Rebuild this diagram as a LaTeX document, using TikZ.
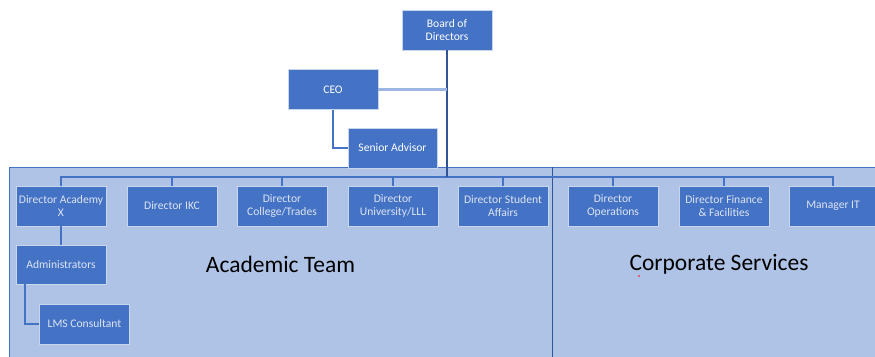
\documentclass[tikz,border=0pt]{standalone}
\usepackage{fontspec}
\setmainfont{Carlito}
\definecolor{boxblue}{HTML}{4472C4}
\definecolor{panelblue}{HTML}{AFC3E6}
\definecolor{linedark}{HTML}{2F5597}
\definecolor{linelight}{HTML}{9DB5E0}
\definecolor{softwhite}{HTML}{DDE5F4}
\tikzset{
  orgbox/.style={fill=boxblue, draw=white!70!boxblue, line width=0.4pt,
    minimum width=90pt, minimum height=40pt, inner sep=1pt,
    align=center, font=\fontsize{11.6}{13}\selectfont, text=softwhite},
  topbox/.style={orgbox, text=white},
  link/.style={draw=boxblue, line width=1.1pt},
  teamlabel/.style={font=\fontsize{23.5}{28}\selectfont, text=black}
}
\begin{document}
\begin{tikzpicture}[x=1pt,y=-1pt]
\useasboundingbox (0,0) rectangle (875,356);
% background panel with the two divisions
\fill[panelblue] (9,167) rectangle (880,360);
\draw[boxblue, line width=0.8pt] (880,167) -- (9,167) -- (9,360);
\draw[linedark, line width=1pt] (552.5,167) -- (552.5,360);

% executive level
\node[topbox] (board) at (447,30) {Board of\\Directors};
\node[topbox] (ceo) at (333,89.5) {CEO};
\node[topbox, minimum width=89pt] (senior) at (392.5,148) {Senior Advisor};

% directors
\coordinate (bar) at (0,177);
\node[orgbox] (acad) at (61,206) {Director Academy\\X};
\node[orgbox] (ikc) at (172,206) {Director IKC};
\node[orgbox] (coll) at (282,206) {Director\\College/Trades};
\node[orgbox] (univ) at (393,206) {Director\\University/LLL};
\node[orgbox] (stud) at (503,206) {Director Student\\Affairs};
\node[orgbox] (ops) at (613,206) {Director\\Operations};
\node[orgbox] (fin) at (724,206) {Director Finance\\\& Facilities};
\node[orgbox, minimum width=88pt] (mit) at (833,206) {Manager IT};

% academy staff
\node[orgbox, minimum height=39pt] (admin) at (61,264.5) {Administrators};
\node[orgbox] (lms) at (84.5,324) {LMS Consultant};

% connectors
\draw[link] (acad.north) -- (acad.north |- bar) -- (mit.north |- bar) -- (mit.north);
\foreach \n in {ikc,coll,univ,stud,ops,fin}
  \draw[link] (\n.north) -- (\n.north |- bar);
\draw[linedark, line width=1.8pt] (board.south) -- (board.south |- bar);
\draw[linelight, line width=2.2pt] (ceo.east) -- (ceo.east -| board.south);
\draw[link] (ceo.south) |- (senior.west);
\draw[link] (acad.south) -- (admin.north);
\draw[link] ([xshift=-36pt]admin.south) |- (lms.west);

% division titles
\node[teamlabel] (acteam) at (280.5,264) {Academic Team};
\node[teamlabel] (corp) at (719,264) {Corporate Services};
\fill[red] (639,276) circle (0.8pt);
\end{tikzpicture}
\end{document}
